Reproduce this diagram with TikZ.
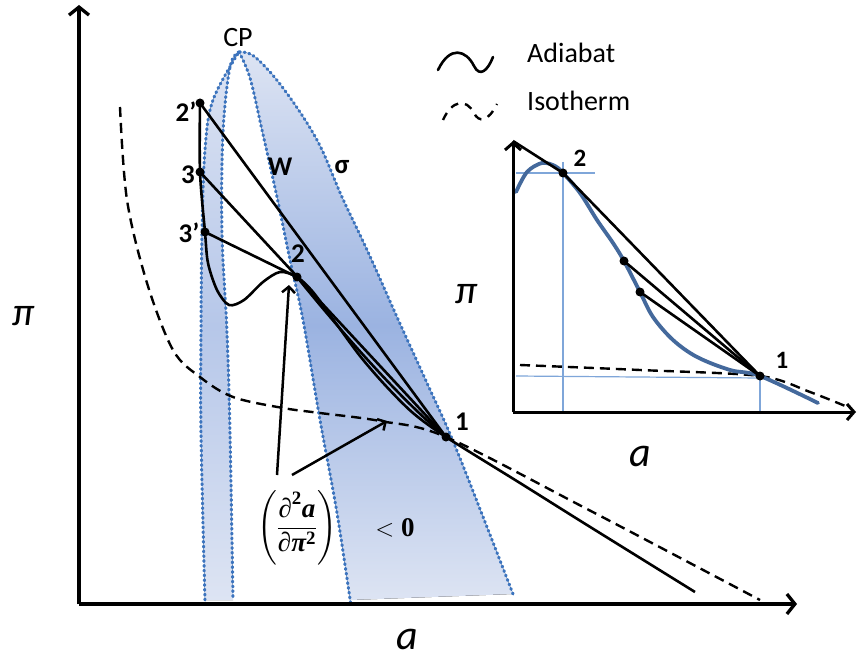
\documentclass[tikz,border=0pt]{standalone}
\usepackage{fontspec}
\setmainfont{Carlito}
\newfontfamily\fm{Liberation Serif}
\usepackage{amsmath}
\usetikzlibrary{arrows.meta}
\definecolor{dotblue}{HTML}{3C74BE}
\definecolor{bandlight}{HTML}{DDE4F3}
\definecolor{banddark}{HTML}{9BB3E1}
\definecolor{bandmid}{HTML}{B6C7E9}
\definecolor{curveblue}{HTML}{44699C}
\definecolor{thinblue}{HTML}{7FA6D9}
\newcommand{\fb}[1]{\text{\fm\bfseries #1}}
\newcommand{\fbi}[1]{\text{\fm\bfseries\itshape #1}}
\begin{document}
\begin{tikzpicture}[x=1pt,y=-1pt,
  axisline/.style={line width=3.3pt, -{Straight Barb[length=8pt,width=20pt]}},
  inaxis/.style={line width=3pt, -{Straight Barb[length=7pt,width=16pt]}},
  ptr/.style={line width=2.5pt, -{Straight Barb[length=6pt,width=13pt]}},
  dotted border/.style={dotblue, line width=3pt, dash pattern=on 1.2pt off 3.6pt, line cap=round},
  adb/.style={line width=2.6pt, line join=round},
  iso/.style={line width=2.4pt, dash pattern=on 10pt off 6pt},
  chord/.style={line width=2.6pt},
  dotn/.style={circle, fill=black, inner sep=0pt, minimum size=9pt},
  lab/.style={font=\fontsize{27}{30}\selectfont\bfseries, inner sep=0pt},
  leg/.style={font=\fontsize{28}{30}\selectfont, inner sep=0pt, anchor=west},
]
\useasboundingbox (0,0) rectangle (857,658);
\fill[white] (0,0) rectangle (857,658);

% ---------- shaded bands ----------
\fill[top color=bandlight, bottom color=bandlight, middle color=bandmid]
  plot[smooth, tension=0.6] coordinates {(205,600) (201,433) (201,333) (202,233) (205,150) (213,100) (239,52)}
  -- plot[smooth, tension=0.6] coordinates {(239,52) (230,67) (223,133) (222,233) (227,333) (230,433) (233,600)}
  -- cycle;
\fill[top color=bandlight, bottom color=bandlight, middle color=banddark]
  plot[smooth, tension=0.6] coordinates {(239,52) (250,78) (262,130) (277,197) (290,260) (303,320) (320,420) (337,513) (350,600)}
  -- (513,594)
  -- plot[smooth, tension=0.6] coordinates {(513,594) (487,527) (453,441) (427,383) (397,317) (368,252) (342,197) (317,140) (283,88) (255,57) (239,52)}
  -- cycle;
% dotted borders
\draw[dotted border] plot[smooth, tension=0.6] coordinates {(205,600) (201,433) (201,333) (202,233) (205,150) (213,100) (239,52)};
\draw[dotted border] plot[smooth, tension=0.6] coordinates {(239,52) (230,67) (223,133) (222,233) (227,333) (230,433) (233,600)};
\draw[dotted border] plot[smooth, tension=0.6] coordinates {(239,52) (250,78) (262,130) (277,197) (290,260) (303,320) (320,420) (337,513) (351,606)};
\draw[dotted border] plot[smooth, tension=0.6] coordinates {(513,594) (487,527) (453,441) (427,383) (397,317) (368,252) (342,197) (317,140) (283,88) (255,57) (239,52)};

% ---------- key points ----------
\coordinate (c2p) at (200,103);
\coordinate (c3) at (200,172);
\coordinate (c3q) at (205,232);
\coordinate (c2) at (297,277);
\coordinate (c1) at (446,437);

% isotherm
\draw[iso] plot[smooth, tension=0.55] coordinates {(120,107) (127,200) (147,283) (173,350) (200,377) (233,397) (283,408) (320,413) (380,421) (c1) (587,509) (760,600)};

% adiabat
\draw[adb] plot[smooth, tension=0.5] coordinates {(c2p) (c3) (c3q) (208,263) (217,290) (229,305) (244,300) (263,282) (280,272) (c2) (313,292) (335,322) (360,356) (385,385) (413,413) (c1) (520,483) (587,525) (695,592)};

% chords
\draw[chord] (c2p) -- (c1);
\draw[chord] (c3) -- (c1);
\draw[chord] (c3q) -- (c2);
\draw[chord] (c2) .. controls (330,318) and (395,395) .. (c1);

% points
\node[dotn] (n2p) at (c2p) {};
\node[dotn] (n3) at (c3) {};
\node[dotn] (n3q) at (c3q) {};
\node[dotn] (n2) at (c2) {};
\node[dotn] (n1) at (c1) {};

% labels
\node[lab] at (186,112) {2'};
\node[lab] at (188,175) {3};
\node[lab] at (189,233) {3’};
\node[lab] at (298,254) {2};
\node[lab] at (462,422) {1};
\node[lab] at (280,167) {W};
\node[lab] at (342,167) {σ};
\node[font=\fontsize{28}{30}\selectfont, inner sep=0pt] (cp) at (238,38) {CP};

% formula and arrows
\node[inner sep=0pt, font=\fontsize{27}{31}\selectfont] (frac) at (297,528) {$\left(\dfrac{\fb{∂}^{\fb{2}}\fbi{a}}{\fb{∂}\fbi{π}^{\fb{2}}}\right)$};
\node[inner sep=0pt, font=\fontsize{27}{31}\selectfont] (lt) at (395,528) {$<\fb{0}$};
\coordinate (s1) at (277,475);
\coordinate (t1) at (289,285);
\coordinate (s2) at (292,475);
\coordinate (t2) at (387,421);
\draw[ptr] (s1) -- (t1);
\draw[ptr] (s2) -- (t2);

% main axes
\coordinate (o) at (79,604);
\coordinate (ytop) at (79,5);
\coordinate (xend) at (797,604);
\draw[axisline] (o) -- (ytop);
\draw[axisline] (o) -- (xend);
\draw[line width=3.3pt] (o) -- ++(0,-5);
\node[font=\fontsize{40}{44}\selectfont\itshape, inner sep=0pt] (piL) at (24,316) {π};
\node[font=\fontsize{42}{46}\selectfont\itshape, inner sep=0pt, anchor=base] (aL) at (407,649) {a};

% legend
\draw[adb, line cap=round] (438,70) .. controls (450,45) and (466,50) .. (474,66) .. controls (480,78) and (488,70) .. (493,57);
\draw[iso, line width=2.4pt, dash pattern=on 8pt off 7pt] (443,120) .. controls (452,100) and (466,98) .. (474,113) .. controls (479,123) and (488,122) .. (497,104);
\node[leg] (adl) at (527,53) {Adiabat};
\node[leg] (isl) at (527,101) {Isotherm};

% ---------- inset ----------
\coordinate (io) at (513,412);
\coordinate (itop) at (513,141);
\coordinate (iend) at (856,412);
\coordinate (i2) at (563,173);
\coordinate (i1) at (760,376);
\coordinate (ia) at (624,261);
\coordinate (ib) at (640,292);
% thin guide lines
\draw[thinblue, line width=1.2pt] (516,173) -- (595,173);
\draw[thinblue, line width=1.2pt] (563,162) -- (563,412);
\draw[thinblue, line width=1.2pt] (516,376) -- (760,378);
\draw[thinblue, line width=1.2pt] (760,376) -- (760,412);
% dashed isotherm
\draw[iso] plot[smooth, tension=0.5] coordinates {(520,365) (640,370) (i1) (810,392) (850,408)};
% blue adiabat
\draw[curveblue, line width=3.8pt, line cap=round] plot[smooth, tension=0.55] coordinates {(516,192) (527,172) (542,163) (555,166) (i2) (580,193) (597,220) (613,243) (ia) (ib) (653,317) (673,340) (697,357) (730,370) (i1) (818,403)};
% axes
\draw[inaxis] (io) -- (itop);
\draw[inaxis] (io) -- (iend);
\draw[line width=3pt] (io) -- ++(0,-4);
% black lines
\draw[chord] (itop) -- (i2) -- (i1);
\draw[chord] (ia) -- (i1);
\draw[chord] (ib) -- (i1);
\node[dotn] (ni2) at (i2) {};
\node[dotn] (ni1) at (i1) {};
\node[dotn] (nia) at (ia) {};
\node[dotn] (nib) at (ib) {};
\node[lab, font=\fontsize{25}{28}\selectfont\bfseries] at (580,158) {2};
\node[lab, font=\fontsize{25}{28}\selectfont\bfseries] at (782,360) {1};
\node[font=\fontsize{40}{44}\selectfont\itshape, inner sep=0pt] (piI) at (467,294) {π};
\node[font=\fontsize{42}{46}\selectfont\itshape, inner sep=0pt, anchor=base] (aI) at (640,466) {a};
\end{tikzpicture}
\end{document}
